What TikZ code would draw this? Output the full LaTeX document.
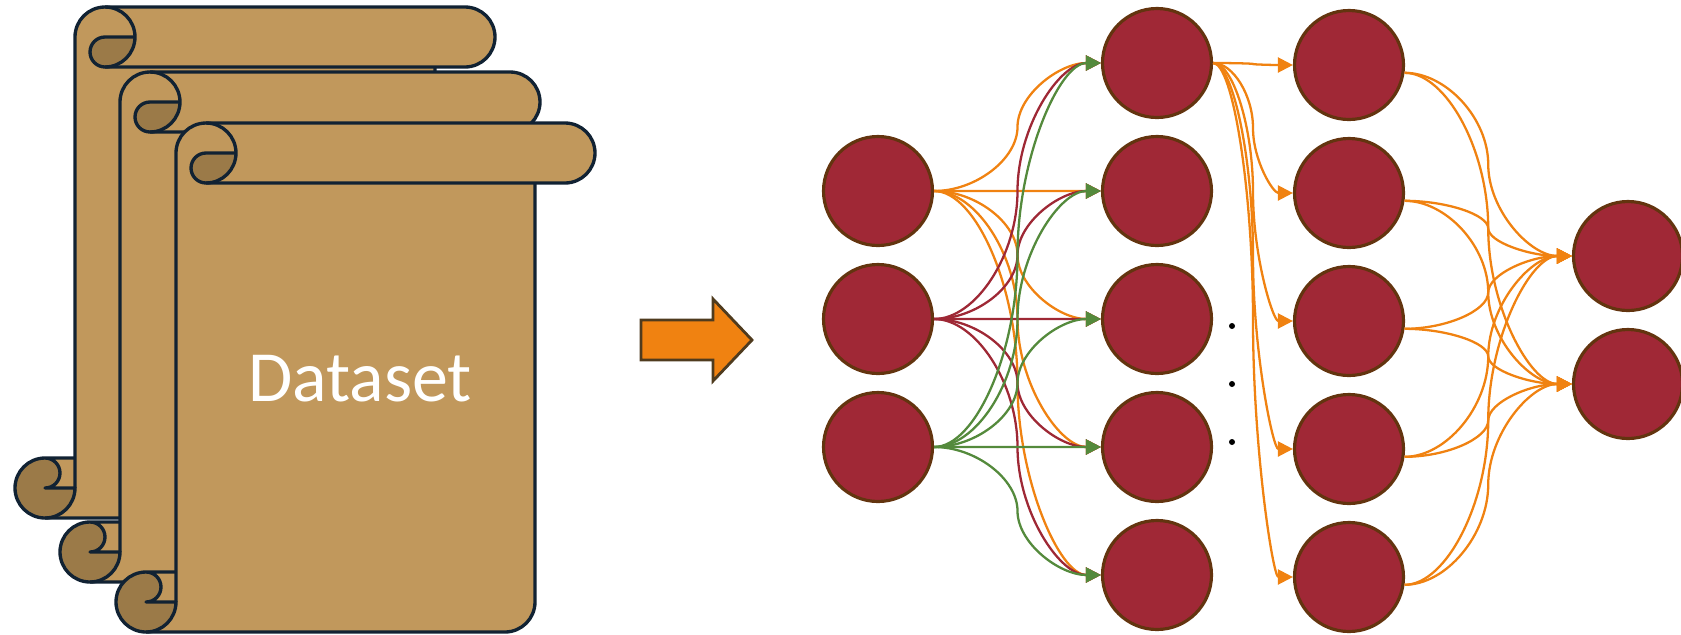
\documentclass[tikz,border=0pt]{standalone}
\usepackage{fontspec}
\usepackage{xcolor}
\usepackage{tikz}
\usetikzlibrary{arrows.meta,positioning,calc}
\newfontfamily\calibri{Carlito}

\definecolor{paper}{HTML}{C1985C}
\definecolor{paperfold}{HTML}{9B7A48}
\definecolor{inkline}{HTML}{112233}
\definecolor{neuronred}{HTML}{A02836}
\definecolor{neuronrim}{HTML}{63340F}
\definecolor{wireorange}{HTML}{F08211}
\definecolor{wirered}{HTML}{9E2835}
\definecolor{wiregreen}{HTML}{548A3C}
\definecolor{arrowrim}{HTML}{4F3B1E}

% one rolled sheet: #1 left body edge, #2 top, #3 right end of roll, #4 bottom
\newcommand{\scrollsheet}[4]{%
  \fill[paper] (#1-30,#4) -- (#3-90,#4) arc[start angle=90,end angle=0,radius=30]
    -- (#3-60,#2+60) -- (#3-30,#2+60) arc[start angle=90,end angle=-90,radius=30]
    -- (#1+30,#2) arc[start angle=-90,end angle=-180,radius=30]
    -- (#1,#4-60) -- (#1-30,#4-60) arc[start angle=-90,end angle=-270,radius=30] -- cycle;
  \fill[paperfold] (#1+60,#2+30) arc[start angle=0,end angle=90,radius=30]
    arc[start angle=90,end angle=270,radius=15] -- cycle;
  \fill[paperfold] (#1-30,#4-60) arc[start angle=-90,end angle=-360,radius=30]
    -- (#1-30,#4-30) arc[start angle=90,end angle=-90,radius=15] -- cycle;
  \draw[sheetline] (#1,#4-30) -- (#1,#2+30) arc[start angle=180,end angle=270,radius=30]
    -- (#3-30,#2) arc[start angle=-90,end angle=90,radius=30] -- (#1+30,#2+60);
  \draw[sheetline] (#1+30,#2) arc[start angle=-90,end angle=90,radius=30];
  \draw[sheetline] (#1+60,#2+30) -- (#1+30,#2+30) arc[start angle=-90,end angle=-270,radius=15];
  \draw[sheetline] (#3-60,#2+60) -- (#3-60,#4-30) arc[start angle=0,end angle=90,radius=30] -- (#1-30,#4);
  \draw[sheetline] (#1-30,#4-60) arc[start angle=-90,end angle=-360,radius=30]
    -- (#1-30,#4-30) arc[start angle=90,end angle=-90,radius=15] -- (#1,#4-60);
}

\begin{document}
\begin{tikzpicture}[
    x=0.1mm, y=-0.1mm,
    node distance=12.8mm, on grid,
    sheetline/.style={draw=inkline, line width=0.95pt, line join=round},
    neuron/.style={circle, draw=neuronrim, line width=0.9pt, fill=neuronred, minimum size=10.9mm, inner sep=0pt},
    bigarrow/.style={draw=arrowrim, line width=0.8pt, fill=wireorange},
    sconn/.style={to path={let \p1=(\tikztostart), \p2=(\tikztotarget) in
      .. controls ({0.75*\x1+0.25*\x2},\y1) and ({0.5*\x1+0.5*\x2},{0.75*\y1+0.25*\y2})
      .. ({0.5*\x1+0.5*\x2},{0.5*\y1+0.5*\y2})
      .. controls ({0.5*\x1+0.5*\x2},{0.25*\y1+0.75*\y2}) and ({0.25*\x1+0.75*\x2},\y2)
      .. (\tikztotarget)}},
    wire/.style={line width=0.65pt, -{Triangle[length=4.3pt,width=4.3pt]}, sconn}
]
    \useasboundingbox (0,0) rectangle (1681,634);

    % stack of data sheets
    \scrollsheet{75}{7}{495}{518}
    \scrollsheet{120}{72}{540}{582}
    \scrollsheet{176}{123}{595}{632}
    \node[font=\calibri\fontsize{20.5}{24}\selectfont, text=white, inner sep=0pt] (dataset) at (360,379) {Dataset};

    % feeding arrow
    \draw[bigarrow] (641,320) -- (713,320) -- (713,299) -- (752,340) -- (713,381) -- (713,360) -- (641,360) -- cycle;

    % network
    \node[neuron] (in1) at (878,191) {};
    \node[neuron, below=of in1] (in2) {};
    \node[neuron, below=of in2] (in3) {};

    \node[neuron] (hid1) at (1157,63) {};
    \node[neuron, below=of hid1] (hid2) {};
    \node[neuron, below=of hid2] (hid3) {};
    \node[neuron, below=of hid3] (hid4) {};
    \node[neuron, below=of hid4] (hid5) {};

    \node[neuron] (mid1) at (1349,65) {};
    \node[neuron, below=of mid1] (mid2) {};
    \node[neuron, below=of mid2] (mid3) {};
    \node[neuron, below=of mid3] (mid4) {};
    \node[neuron, below=of mid4] (mid5) {};

    \node[neuron] (out1) at (1628,256) {};
    \node[neuron, below=of out1] (out2) {};

    \foreach \yy in {326,384,442} \fill (1232,\yy) circle[radius=3];

    \path[wire, wireorange] (in1.east) edge (hid1.west) edge (hid2.west) edge (hid3.west) edge (hid4.west) edge (hid5.west);
    \path[wire, wirered] (in2.east) edge (hid1.west) edge (hid2.west) edge (hid3.west) edge (hid4.west) edge (hid5.west);
    \path[wire, wiregreen] (in3.east) edge (hid1.west) edge (hid2.west) edge (hid3.west) edge (hid4.west) edge (hid5.west);

    \path[wire, wireorange] (hid1.east) edge (mid1.west) edge (mid2.west) edge (mid3.west) edge (mid4.west) edge (mid5.west);

    \path[wire, wireorange] (mid1.-8) edge (out1.west) edge (out2.west);
    \path[wire, wireorange] (mid2.-8) edge (out1.west) edge (out2.west);
    \path[wire, wireorange] (mid3.-8) edge (out1.west) edge (out2.west);
    \path[wire, wireorange] (mid4.-8) edge (out1.west) edge (out2.west);
    \path[wire, wireorange] (mid5.-8) edge (out1.west) edge (out2.west);
\end{tikzpicture}
\end{document}
